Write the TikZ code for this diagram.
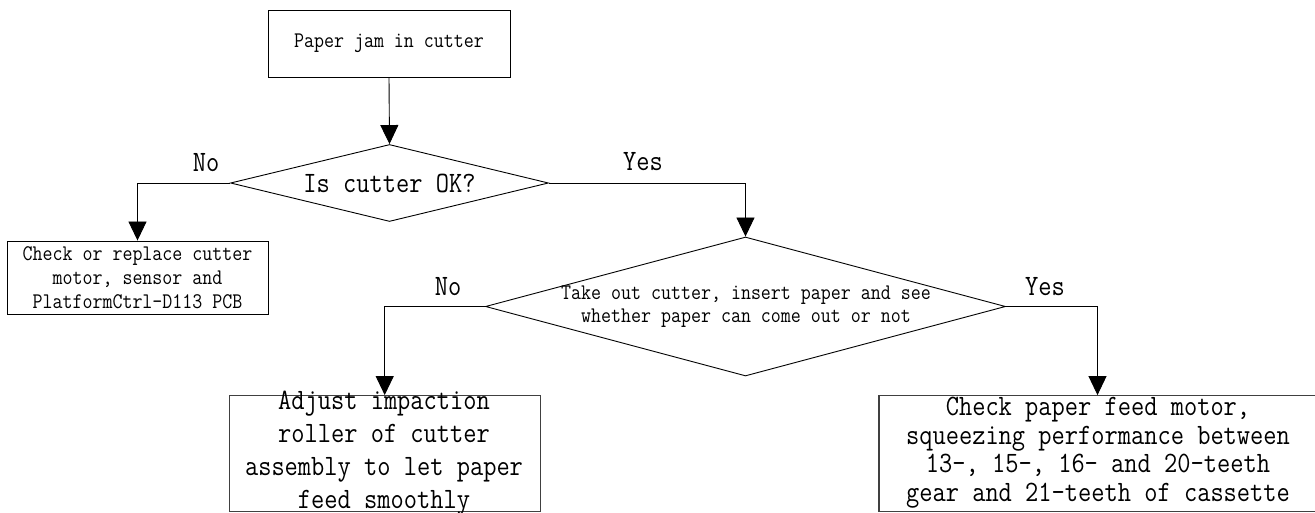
\documentclass[tikz,border=0pt]{standalone}
\usepackage{fontspec}
\usepackage{graphicx}
\usetikzlibrary{arrows.meta,shapes.geometric}
\newcommand\tallt[1]{\scalebox{1}[1.15]{#1}}
\begin{document}
\begin{tikzpicture}[x=1pt,y=-1pt,
  flow/.style={draw=black, line width=0.9pt},
  arr/.style={flow, -{Triangle[width=18pt,length=19pt]}},
  boxs/.style={draw=black, line width=0.9pt, rectangle, inner sep=0pt},
  lowbox/.style={draw=black!75, line width=1.2pt, rectangle, inner sep=0pt},
  dia/.style={draw=black, line width=0.9pt, diamond, inner sep=0pt},
  bigtxt/.style={font=\ttfamily\fontsize{25.7}{33}\selectfont, align=center, inner sep=0pt},
  smalltxt/.style={font=\ttfamily\fontsize{19.4}{24}\selectfont, align=center, inner sep=0pt},
]
\useasboundingbox (0,0) rectangle (1315,513);

% shapes
\node[boxs, minimum width=242pt, minimum height=67pt] (start) at (389,43.5) {};
\node[smalltxt] (startt) at (389,43.5) {\tallt{Paper jam in cutter}};

\node[dia, minimum width=318pt, minimum height=77pt] (d1) at (389.5,183) {};
\node[bigtxt] (d1t) at (389.5,183) {\tallt{Is cutter OK?}};

\node[boxs, minimum width=261pt, minimum height=73pt] (cr) at (137.5,277.5) {};
\node[smalltxt] (crt) at (137.5,278) {\tallt{Check or replace cutter}\\\tallt{motor,\ sensor and}\\\tallt{PlatformCtrl-D113 PCB}};

\node[dia, minimum width=520pt, minimum height=139pt] (d2) at (745.5,306.5) {};
\node[smalltxt, font=\ttfamily\fontsize{19.4}{23}\selectfont] (d2t) at (746,306.5) {\tallt{Take out cutter,\ insert paper and see}\\\tallt{whether paper can come out or not}};

\node[lowbox, minimum width=311pt, minimum height=116pt] (adj) at (384.7,453.7) {};
\node[bigtxt] (adjt) at (384,453.5) {\tallt{Adjust impaction}\\\tallt{roller of cutter}\\\tallt{assembly to let paper}\\\tallt{feed smoothly}};

\node[lowbox, minimum width=451pt, minimum height=116pt] (chk) at (1104.5,453.7) {};
\node[bigtxt, font=\ttfamily\fontsize{25.7}{28.5}\selectfont] (chkt) at (1098,452.5) {\tallt{Check paper feed motor,}\\\tallt{squeezing performance between}\\\tallt{13-,\ 15-,\ 16- and 20-teeth}\\\tallt{gear and 21-teeth of cassette}};

% labels
\node[bigtxt] (no1) at (206,163) {\tallt{No}};
\node[bigtxt] (yes1) at (643,162) {\tallt{Yes}};
\node[bigtxt] (no2) at (448,287) {\tallt{No}};
\node[bigtxt] (yes2) at (1045,287) {\tallt{Yes}};

% connectors
\draw[arr] (start.south) -- (d1.north);
\draw[arr] (d1.west) -| (cr.north);
\draw[arr] (d1.east) -| (d2.north);
\draw[arr] (d2.west) -| (adj.north);
\draw[arr] (d2.east) -| ([xshift=-7pt]chk.north);
\end{tikzpicture}
\end{document}
